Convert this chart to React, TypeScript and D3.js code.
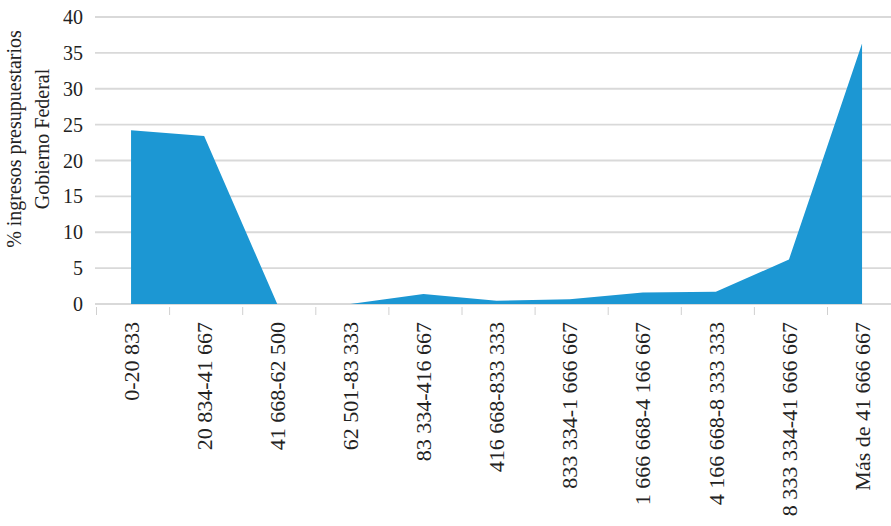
import * as d3 from 'd3';
import React, { useEffect, useRef } from 'react';

// income brackets (pesos)
const brackets = [
  '0-20 833',
  '20 834-41 667',
  '41 668-62 500',
  '62 501-83 333',
  '83 334-416 667',
  '416 668-833 333',
  '833 334-1 666 667',
  '1 666 668-4 166 667',
  '4 166 668-8 333 333',
  '8 333 334-41 666 667',
  'Más de 41 666 667',
];

// % of federal government budget revenue
const shares = [24.2, 23.4, 0, 0, 1.4, 0.45, 0.65, 1.6, 1.7, 6.2, 36.3];

const yTicks = [0, 5, 10, 15, 20, 25, 30, 35, 40];
const yTitle = ['% ingresos presupuestarios', 'Gobierno Federal'];

const W = 891;
const H = 526;

const App = () => {
  const ref = useRef<SVGSVGElement>(null);

  useEffect(() => {
    const svg = d3.select(ref.current);
    svg.selectAll('*').remove();

    const x = d3.scaleBand()
      .domain(brackets)
      .range([96.5, 96.5 + 73.1 * brackets.length])
      .paddingInner(0)
      .paddingOuter(0);

    const y = d3.scaleLinear()
      .domain([0, 40])
      .range([304, 17]);

    const cx = (d: string) => (x(d) as number) + x.bandwidth() / 2 - 2;

    // gridlines
    svg.append('g')
      .selectAll('line')
      .data(yTicks)
      .enter()
      .append('line')
      .attr('x1', 95)
      .attr('x2', W)
      .attr('y1', d => y(d))
      .attr('y2', d => y(d))
      .attr('stroke', '#d9d9d9')
      .attr('stroke-width', 1.8);

    // y tick labels
    svg.append('g')
      .selectAll('text')
      .data(yTicks)
      .enter()
      .append('text')
      .attr('x', 83)
      .attr('y', d => y(d))
      .attr('dy', '0.35em')
      .attr('text-anchor', 'end')
      .attr('font-family', "'Liberation Serif', serif")
      .attr('font-size', 20)
      .attr('fill', '#222')
      .text(d => d);

    // x ticks at band edges
    svg.append('g')
      .selectAll('line')
      .data(brackets)
      .enter()
      .append('line')
      .attr('x1', d => x(d) as number)
      .attr('x2', d => x(d) as number)
      .attr('y1', 307)
      .attr('y2', 315)
      .attr('stroke', '#d0d0d0')
      .attr('stroke-width', 1);

    // area
    const area = d3.area<number>()
      .x((_, i) => cx(brackets[i]))
      .y0(y(0))
      .y1(d => y(d));

    svg.append('path')
      .datum(shares)
      .attr('d', area)
      .attr('fill', '#1c97d3');

    // x labels
    svg.append('g')
      .selectAll('text')
      .data(brackets)
      .enter()
      .append('text')
      .attr('transform', d => `translate(${cx(d)}, 322)rotate(-90)`)
      .attr('dy', '0.35em')
      .attr('text-anchor', 'end')
      .attr('font-family', "'Liberation Serif', serif")
      .attr('font-size', 22)
      .attr('fill', '#222')
      .text(d => d);

    // y title
    const title = svg.append('text')
      .attr('transform', 'translate(0, 139)rotate(-90)')
      .attr('text-anchor', 'middle')
      .attr('font-family', "'Liberation Serif', serif")
      .attr('font-size', 20)
      .attr('fill', '#222');

    title.selectAll('tspan')
      .data(yTitle)
      .enter()
      .append('tspan')
      .attr('x', 0)
      .attr('y', (_, i) => 21 + i * 28)
      .text(d => d);
  }, []);

  return (
    <div style={{ position: 'absolute', left: 0, top: 0 }}>
      <svg ref={ref} width={W} height={H} style={{ display: 'block' }}></svg>
    </div>
  );
};

export default App;
